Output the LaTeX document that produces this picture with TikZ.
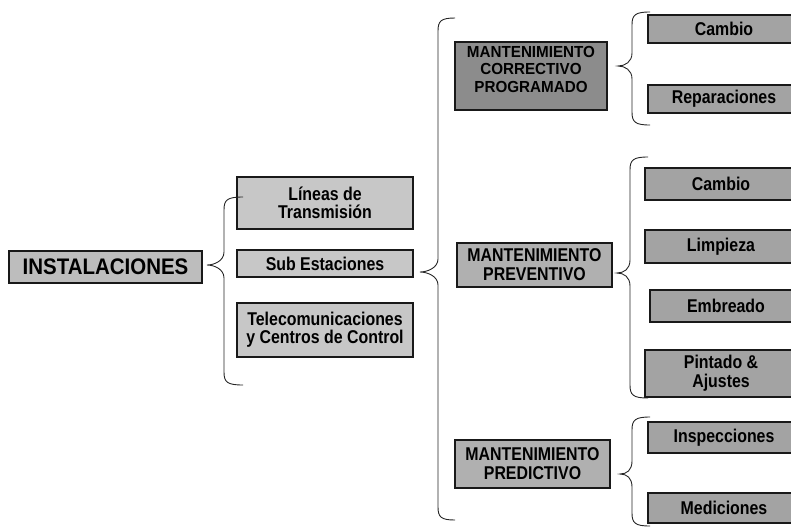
\documentclass[tikz,border=0pt]{standalone}
\usepackage{fontspec}
\setmainfont{Liberation Sans}[FakeStretch=0.86]
\newfontfamily\rootfont{Liberation Sans}[FakeStretch=0.91]
\newfontfamily\capsfont{Liberation Sans}[FakeStretch=0.95]
\definecolor{gInst}{gray}{0.74}
\definecolor{gLeft}{gray}{0.78}
\definecolor{gMid}{gray}{0.69}
\definecolor{gDark}{gray}{0.55}
\definecolor{gRight}{gray}{0.64}
\tikzset{
  box/.style={draw=black!90, line width=1.2pt, inner sep=0pt, align=center,
    font=\bfseries\fontsize{18.5}{19}\selectfont},
  rootbox/.style={box, fill=gInst, font=\rootfont\bfseries\fontsize{22.5}{24}\selectfont},
  leftbox/.style={box, fill=gLeft, minimum width=176pt},
  midbox/.style={box, fill=gMid, minimum width=155pt},
  darkbox/.style={box, fill=gDark, minimum width=152pt},
  rightbox/.style={box, fill=gRight, minimum width=152pt},
  capline/.style={inner sep=0pt, font=\capsfont\bfseries\fontsize{16}{16}\selectfont},
  bracestroke/.style={draw=black!85, line width=0.9pt}
}
% curly brace: #1 stem x, #2 top y, #3 tip y, #4 bottom y, #5 tip x, #6 end x
\newcommand\curlybrace[6]{%
  \draw[bracestroke] (#6,#2) .. controls (#1+3,#2) and (#1,#2+3) .. (#1,#2+13)
    -- (#1,#3-13) .. controls (#1,#3-4) and (#5+7,#3) .. (#5,#3)
    .. controls (#5+7,#3) and (#1,#3+4) .. (#1,#3+13)
    -- (#1,#4-13) .. controls (#1,#4-3) and (#1+3,#4) .. (#6,#4);}
\begin{document}
\begin{tikzpicture}[x=1pt, y=-1pt]
\useasboundingbox (0,0) rectangle (791,528);

% root
\node[rootbox, minimum width=193pt, minimum height=32pt] (inst) at (105.5,267) {INSTALACIONES};

% installations
\node[leftbox, minimum height=52pt] (lin) at (325,203) {L\'ineas de\\[-1pt]Transmisi\'on};
\node[leftbox, minimum height=27pt] (sub) at (325,263.5) {Sub Estaciones};
\node[leftbox, minimum height=54pt] (tel) at (325,330) {Telecomunicaciones\\[-1pt]y Centros de Control};

% maintenance types
\node[darkbox, minimum height=68pt] (mcp) at (531,76) {};
\node[capline, anchor=base] (mcpA) at (531,57)   {MANTENIMIENTO};
\node[capline, anchor=base] (mcpB) at (531,74.5) {CORRECTIVO};
\node[capline, anchor=base] (mcpC) at (531,92)   {PROGRAMADO};
\node[midbox, minimum height=44pt] (mp) at (534.5,265) {MANTENIMIENTO\\[0pt]PREVENTIVO};
\node[midbox, minimum height=48pt] (mpd) at (532.5,464) {MANTENIMIENTO\\[0pt]PREDICTIVO};

% tasks
\node[rightbox, minimum height=28pt] (c1)  at (724,29)    {Cambio};
\node[rightbox, minimum height=28pt] (rep) at (724,99)    {Reparaciones};
\node[rightbox, minimum height=32pt] (c2)  at (721,184)   {Cambio};
\node[rightbox, minimum height=33pt] (lim) at (721,246.5) {Limpieza};
\node[rightbox, minimum height=32pt] (emb) at (726,306)   {Embreado};
\node[rightbox, minimum height=47pt] (pin) at (721,373.5) {Pintado \&\\[0pt]Ajustes};
\node[rightbox, minimum height=31pt] (ins) at (724,437.5) {Inspecciones};
\node[rightbox, minimum height=30pt] (med) at (724,508)   {Mediciones};

% grouping braces
\curlybrace{224}{197}{265}{385}{207}{243}
\curlybrace{438}{18}{272}{520}{420}{455}
\curlybrace{632}{12}{66}{125}{618}{650}
\curlybrace{630}{157}{273}{398}{617}{648}
\curlybrace{632}{417}{474}{526}{620}{650}
\end{tikzpicture}
\end{document}
